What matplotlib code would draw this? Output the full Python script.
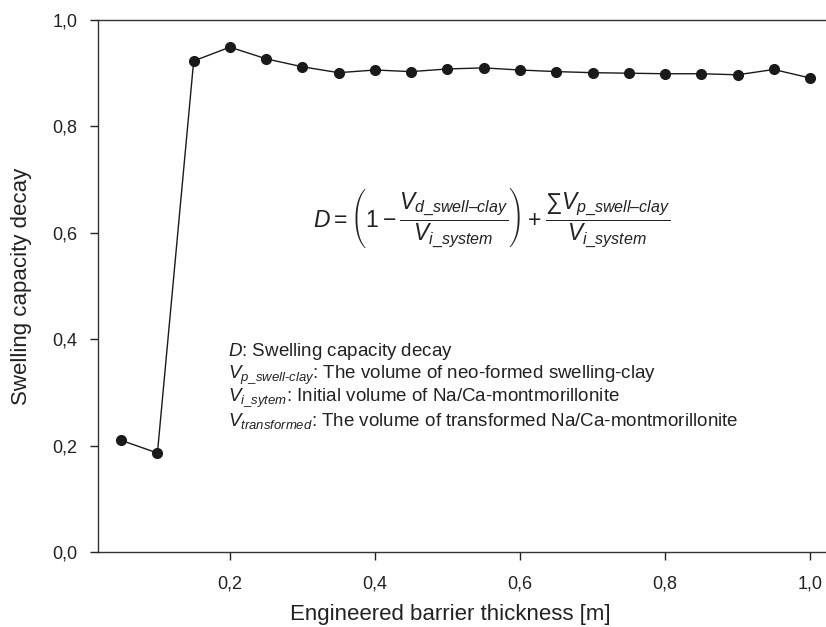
import matplotlib
matplotlib.use("Agg")
import matplotlib.pyplot as plt
from matplotlib.ticker import FuncFormatter

# barrier thickness [m] and swelling capacity decay D
thickness = [0.05, 0.10, 0.15, 0.20, 0.25, 0.30, 0.35, 0.40, 0.45, 0.50,
             0.55, 0.60, 0.65, 0.70, 0.75, 0.80, 0.85, 0.90, 0.95, 1.00]
decay = [0.210, 0.186, 0.923, 0.949, 0.927, 0.912, 0.901, 0.906, 0.903, 0.908,
         0.910, 0.906, 0.903, 0.901, 0.900, 0.899, 0.899, 0.897, 0.907, 0.891]

x_ticks = [0.2, 0.4, 0.6, 0.8, 1.0]
y_ticks = [0.0, 0.2, 0.4, 0.6, 0.8, 1.0]

legend_lines = [
    r'$D$: Swelling capacity decay',
    r'$V_{p\_swell\text{-}clay}$: The volume of neo-formed swelling-clay',
    r'$V_{i\_sytem}$: Initial volume of Na/Ca-montmorillonite',
    r'$V_{transformed}$: The volume of transformed Na/Ca-montmorillonite',
]

plt.rcParams['font.family'] = ['Liberation Sans', 'DejaVu Sans']
plt.rcParams['mathtext.fontset'] = 'custom'
plt.rcParams['mathtext.rm'] = 'Liberation Sans'
plt.rcParams['mathtext.it'] = 'Liberation Sans:italic'
plt.rcParams['mathtext.bf'] = 'Liberation Sans:bold'

fig = plt.figure(figsize=(8.26, 6.27), dpi=100)
ax = fig.add_axes([0.1186, 0.1196, 0.8814, 0.8485])

ax.plot(thickness, decay, color='#1a1a1a', linewidth=1.0,
        marker='o', markersize=7, markerfacecolor='#1a1a1a', markeredgecolor='#1a1a1a')

ax.set_xlim(0.018, 1.022)
ax.set_ylim(0.0, 1.0)
ax.set_xticks(x_ticks)
ax.set_yticks(y_ticks)
comma = FuncFormatter(lambda v, pos: '{:.1f}'.format(v).replace('.', ','))
ax.xaxis.set_major_formatter(comma)
ax.yaxis.set_major_formatter(comma)
ax.tick_params(direction='out', length=6, width=1.0, labelsize=13, colors='#222222')
ax.tick_params(axis='x', pad=11)
ax.tick_params(axis='y', pad=9)
ax.spines['right'].set_visible(False)
for s in ['left', 'bottom', 'top']:
    ax.spines[s].set_linewidth(1.0)
    ax.spines[s].set_color('#333333')

ax.set_xlabel('Engineered barrier thickness [m]', fontsize=16, color='#222222')
ax.xaxis.set_label_coords(0.4835, -0.097)
ax.set_ylabel('Swelling capacity decay', fontsize=16, color='#222222')
ax.yaxis.set_label_coords(-0.091, 0.5)

formula = (r'$D=\left(1-\dfrac{V_{d\_swell\text{–}clay}}{V_{i\_system}}\right)'
           r'+\dfrac{\sum V_{p\_swell\text{–}clay}}{V_{i\_system}}$')
ax.text(0.561, 0.628, formula, fontsize=16.5, ha='center', va='center', color='#222222')

for i, line in enumerate(legend_lines):
    ax.text(0.197, 0.376 - i * 0.0432, line, fontsize=13.5, ha='left', va='center',
            color='#222222')

fig.savefig('out.png', dpi=100)
